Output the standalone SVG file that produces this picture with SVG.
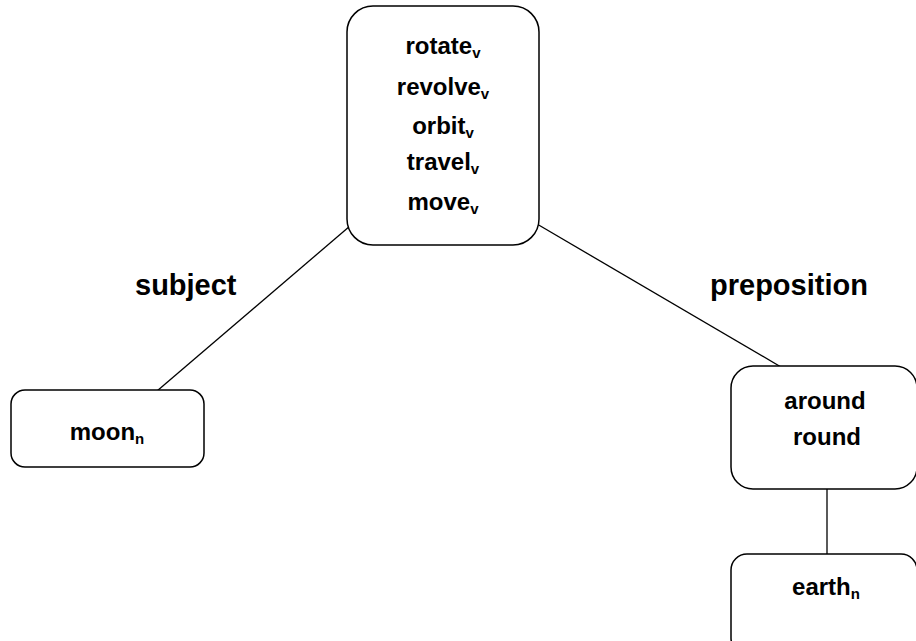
<svg xmlns="http://www.w3.org/2000/svg" width="916" height="641" viewBox="0 0 916 641">
<style>
.box{fill:#fff;stroke:#000;stroke-width:1.5}
.t{font-family:"Liberation Sans",Arial,sans-serif;font-weight:bold;font-size:24px;fill:#000;text-anchor:middle}
.s{font-size:15px}
.lbl{font-family:"Liberation Sans",Arial,sans-serif;font-weight:bold;font-size:29px;fill:#000}
.c{stroke:#000;stroke-width:1.3;fill:none}
</style>
<rect width="916" height="641" fill="#fff"/>
<g id="connectors">
<line class="c" x1="350" y1="226" x2="157" y2="391"/>
<line class="c" x1="537" y1="224" x2="781" y2="367"/>
<line class="c" x1="827" y1="489" x2="827" y2="554"/>
</g>
<g id="verbs">
<rect class="box" x="347" y="6" width="192" height="239" rx="26"/>
<text class="t" x="443" y="54">rotate<tspan class="s" dy="4">v</tspan></text>
<text class="t" x="443" y="95">revolve<tspan class="s" dy="4">v</tspan></text>
<text class="t" x="443" y="134">orbit<tspan class="s" dy="4">v</tspan></text>
<text class="t" x="443" y="170">travel<tspan class="s" dy="4">v</tspan></text>
<text class="t" x="443" y="210">move<tspan class="s" dy="4">v</tspan></text>
</g>
<g id="subject-label"><text class="lbl" x="135" y="295">subject</text></g>
<g id="preposition-label"><text class="lbl" x="710" y="295">preposition</text></g>
<g id="moon">
<rect class="box" x="11" y="390" width="193" height="77" rx="14"/>
<text class="t" x="107" y="440">moon<tspan class="s" dy="4">n</tspan></text>
</g>
<g id="around">
<rect class="box" x="731" y="366" width="186" height="123" rx="22"/>
<text class="t" x="825" y="409">around</text>
<text class="t" x="827" y="445">round</text>
</g>
<g id="earth">
<rect class="box" x="731" y="554" width="186" height="100" rx="16"/>
<text class="t" x="826" y="595">earth<tspan class="s" dy="4">n</tspan></text>
</g>
</svg>
